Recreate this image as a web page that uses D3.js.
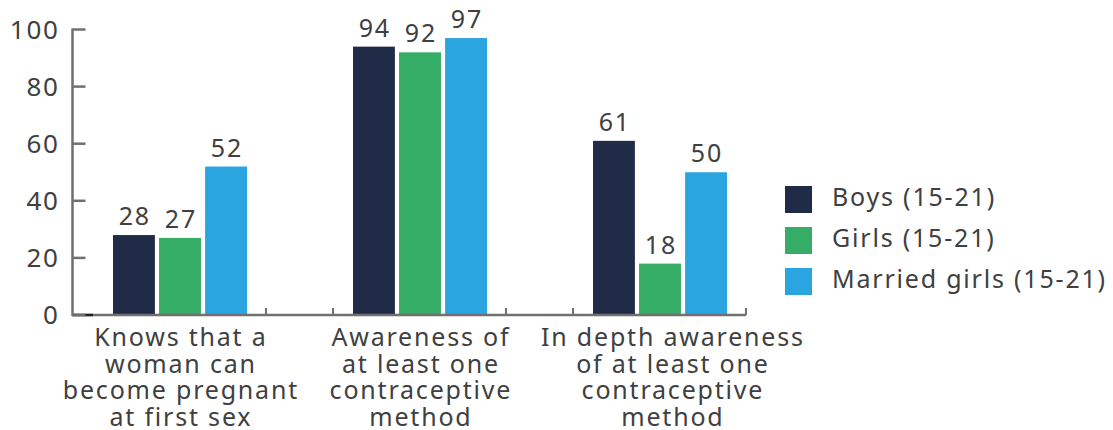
<!DOCTYPE html>
<html>
<head>
<meta charset="utf-8">
<script src="https://cdn.jsdelivr.net/npm/d3@7"></script>
<style>
  html, body { margin: 0; padding: 0; background: #ffffff; }
  svg { display: block; }
  text { font-family: "Noto Sans", sans-serif; fill: #404040; }
</style>
</head>
<body>
<svg id="chart" width="1113" height="430"></svg>
<script>
// Categories (x-axis labels, one line per array entry)
const categories = ["knows", "awareness", "inDepth"];
const categoryLabels = [
  ["Knows that a", "woman can", "become pregnant", "at first sex"],
  ["Awareness of", "at least one", "contraceptive", "method"],
  ["In depth awareness", "of at least one", "contraceptive", "method"]
];

// Series
const seriesNames = ["Boys (15-21)", "Girls (15-21)", "Married girls (15-21)"];
const seriesColors = ["#202c47", "#35ad66", "#2ba5df"];
const boys = [28, 94, 61];
const girls = [27, 92, 18];
const marriedGirls = [52, 97, 50];
const seriesValues = [boys, girls, marriedGirls];

// Y axis ticks
const yTicks = [0, 20, 40, 60, 80, 100];

const svg = d3.select("#chart");
const axisColor = "#707070";
const spacing = 1.8;
const fontSize = 25;

const y = d3.scaleLinear().domain([0, 100]).range([315, 29.5]);
const x0 = d3.scaleBand().domain(categories).range([60, 780]);
const x1 = d3.scaleBand().domain(seriesNames).range([53, 187]).paddingInner(0.09);

const axisLeft = 72.5;
const axisRight = x0(categories[2]) + 187 + 19;

// Bars with value labels
categories.forEach((c, ci) => {
  const g = svg.append("g").attr("transform", `translate(${x0(c)},0)`);
  seriesNames.forEach((s, si) => {
    const v = seriesValues[si][ci];
    g.append("rect")
      .attr("x", x1(s))
      .attr("y", y(v))
      .attr("width", x1.bandwidth())
      .attr("height", y(0) - y(v))
      .attr("fill", seriesColors[si]);
    g.append("text")
      .attr("x", x1(s) + x1.bandwidth() / 2 + spacing / 2)
      .attr("y", y(v) - 10)
      .attr("text-anchor", "middle")
      .attr("font-size", fontSize)
      .attr("letter-spacing", spacing)
      .text(v);
  });
});

// X axis baseline and tick marks between groups
svg.append("line")
  .attr("x1", axisLeft).attr("x2", axisRight)
  .attr("y1", y(0)).attr("y2", y(0))
  .attr("stroke", axisColor).attr("stroke-width", 2.5);
svg.append("line")
  .attr("x1", axisLeft).attr("x2", x0(categories[0]) + 53 - 20)
  .attr("y1", y(0)).attr("y2", y(0))
  .attr("stroke", "#222222").attr("stroke-width", 2.5);

const xTickPos = [];
categories.forEach((c, ci) => {
  if (ci > 0) xTickPos.push(x0(c) + 53 - 20);
  xTickPos.push(x0(c) + 187 + 19);
});
svg.selectAll(".xtick").data(xTickPos).enter().append("line")
  .attr("x1", d => d).attr("x2", d => d)
  .attr("y1", y(0)).attr("y2", y(0) - 7)
  .attr("stroke", axisColor).attr("stroke-width", 2);

// Y axis line, inward ticks and labels
svg.append("line")
  .attr("x1", axisLeft).attr("x2", axisLeft)
  .attr("y1", y(100) - 1).attr("y2", y(0) + 1)
  .attr("stroke", axisColor).attr("stroke-width", 2.5);
yTicks.forEach(t => {
  svg.append("line")
    .attr("x1", axisLeft).attr("x2", axisLeft + 13)
    .attr("y1", y(t)).attr("y2", y(t))
    .attr("stroke", axisColor).attr("stroke-width", 2.5);
  svg.append("text")
    .attr("x", 58 + spacing)
    .attr("y", y(t))
    .attr("dy", "0.36em")
    .attr("text-anchor", "end")
    .attr("font-size", 26)
    .attr("letter-spacing", spacing)
    .text(t);
});

// Category labels
const labelShift = [0, 0, 12];
categories.forEach((c, ci) => {
  const cx = x0(c) + x0.bandwidth() / 2 + labelShift[ci] + spacing / 2;
  const t = svg.append("text")
    .attr("text-anchor", "middle")
    .attr("font-size", fontSize)
    .attr("letter-spacing", spacing);
  categoryLabels[ci].forEach((line, li) => {
    t.append("tspan")
      .attr("x", cx)
      .attr("y", 346 + li * 26.7)
      .text(line);
  });
});

// Legend
const legend = svg.append("g");
seriesNames.forEach((s, si) => {
  const ly = 186 + si * 41;
  legend.append("rect")
    .attr("x", 785).attr("y", ly)
    .attr("width", 27).attr("height", 27)
    .attr("fill", seriesColors[si]);
  legend.append("text")
    .attr("x", 832).attr("y", ly + 20)
    .attr("font-size", fontSize)
    .attr("letter-spacing", spacing)
    .text(s);
});
</script>
</body>
</html>
